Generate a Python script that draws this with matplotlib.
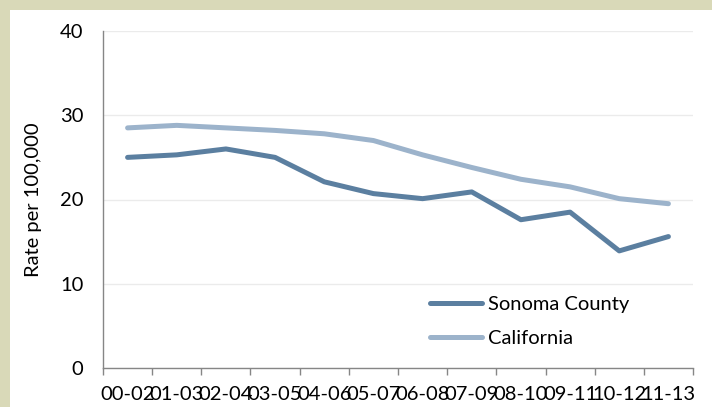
import matplotlib
matplotlib.use("Agg")
import matplotlib.pyplot as plt
from matplotlib.patches import Rectangle

categories = ["00-02", "01-03", "02-04", "03-05", "04-06", "05-07",
              "06-08", "07-09", "08-10", "09-11", "10-12", "11-13"]
sonoma = [25.0, 25.3, 26.0, 25.0, 22.1, 20.7, 20.1, 20.9, 17.6, 18.5, 13.9, 15.6]
california = [28.5, 28.8, 28.5, 28.2, 27.8, 27.0, 25.3, 23.8, 22.4, 21.5, 20.1, 19.5]
yticks = [0, 10, 20, 30, 40]

plt.rcParams['font.family'] = ['Lato', 'DejaVu Sans']

W, H = 712, 407
fig = plt.figure(figsize=(W / 100, H / 100), dpi=100)
fig.patch.set_facecolor("white")
beige = "#D9D9B8"
fig.add_artist(Rectangle((0, 1 - 10 / H), 1, 10 / H, transform=fig.transFigure,
                         facecolor=beige, edgecolor="none", zorder=0))
fig.add_artist(Rectangle((0, 0), 10 / W, 1, transform=fig.transFigure,
                         facecolor=beige, edgecolor="none", zorder=0))

ax = fig.add_axes([103 / W, 1 - 368 / H, 590 / W, 337 / H])
x = list(range(len(categories)))
ax.plot(x, sonoma, color="#5B7FA0", lw=3.6, label="Sonoma County",
        solid_capstyle="round", solid_joinstyle="round", zorder=3)
ax.plot(x, california, color="#9CB3CB", lw=3.6, label="California",
        solid_capstyle="round", solid_joinstyle="round", zorder=2)

ax.set_xlim(-0.5, len(categories) - 0.5)
ax.set_ylim(0, 40)
ax.set_yticks(yticks)
ax.set_xticks(x)
ax.set_xticklabels(categories)
ax.set_xticks([i - 0.5 for i in range(len(categories) + 1)], minor=True)
ax.tick_params(axis="x", which="major", length=0, pad=13, labelsize=14.5, labelcolor="black")
ax.tick_params(axis="x", which="minor", length=5, width=1, color="#868686", direction="out")
ax.tick_params(axis="y", length=0, pad=14, labelsize=14.5, labelcolor="black")
ax.grid(axis="y", color="#EBEBEB", lw=1)
ax.set_axisbelow(True)
for s in ["top", "right"]:
    ax.spines[s].set_visible(False)
for s in ["left", "bottom"]:
    ax.spines[s].set_color("#868686")
    ax.spines[s].set_linewidth(1)
ax.set_ylabel("Rate per 100,000", fontsize=14.5, labelpad=13)

leg = ax.legend(loc="upper left", bbox_to_anchor=(0.554, 0.214), frameon=False,
                fontsize=14.5, handlelength=2.6, handletextpad=0.3,
                labelspacing=0.84, borderpad=0, borderaxespad=0)

fig.savefig("out.png", dpi=100)
